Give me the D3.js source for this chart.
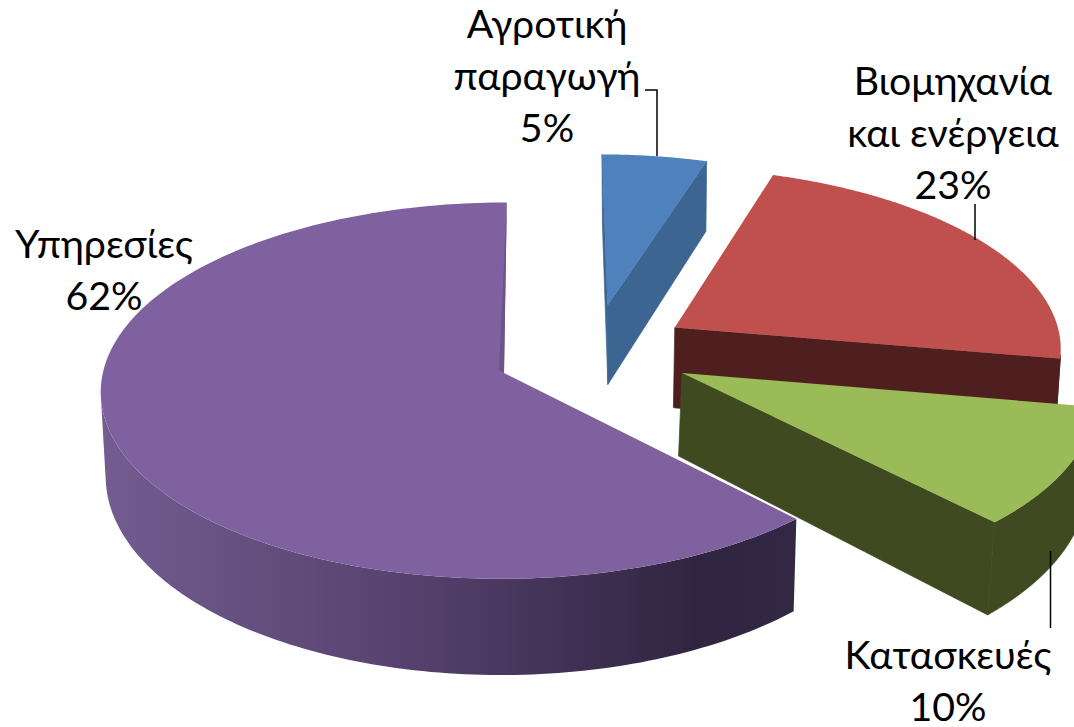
<!DOCTYPE html>
<html><head><meta charset="utf-8">
<script src="https://cdn.jsdelivr.net/npm/d3@7"></script>
<style>html,body{margin:0;padding:0;background:#fff;overflow:hidden}svg{display:block}</style>
</head><body><svg id="c" width="1074" height="727"></svg>
<script>
const categories = ["Αγροτική παραγωγή","Βιομηχανία και ενέργεια","Κατασκευές","Υπηρεσίες"];
const values = [5,22.8,10.2,62];
const labelLines = [["Αγροτική","παραγωγή","5%"],["Βιομηχανία","και ενέργεια","23%"],["Κατασκευές","10%"],["Υπηρεσίες","62%"]];
const topColors = ["#4f81bd","#c0504d","#9bbb59","#7f61a0"];
const wallColors = ["#3d6591","#4f1f1f","#3f4a20","#6c5489"];
const paintOrder = [0,1,3,2];

// layout
const offsets = [[73,-150],[141,-100],[145,0],[-33,0]];
const radiusScale = [0.95,0.985,1.03,1.008];
const wallShift = [0,-1,-3,-1];
const labelAnchors = [[547,38],[953,95],[948,669],[104,258]];
const lineH = 52, fontSize = 39.3;
const R = 398, D = 4280, H = 1990, depth0 = 83, x0 = 537, yHorizon = 373 - H;
const leaders = [[[645,90],[657,90],[657,156]],[[975,204],[975,240]],[[1050.5,551],[1050.5,628]]];

const svg = d3.select("#c");
const defs = svg.append("defs");
const grad = defs.append("linearGradient").attr("id","purpleWall").attr("gradientUnits","userSpaceOnUse")
  .attr("x1",100).attr("x2",800).attr("y1",0).attr("y2",0);
const gradStops = [[0,"#735c90"],[0.43,"#57426f"],[0.85,"#302541"],[1,"#332843"]];
gradStops.forEach(s=>grad.append("stop").attr("offset",s[0]).attr("stop-color",s[1]));

const slices = d3.pie().sort(null).value(d=>d)(values);
const line = d3.line();
function proj(X,Z,bottom,shift){
  const s = D/(D-Z);
  let x = x0 + X*s, y = yHorizon + H*s;
  if(bottom){ y += depth0*Math.pow(s,1.5); x -= (x-640)*0.011; x += shift; }
  return [x,y];
}

paintOrder.forEach(i=>{
  const sl = slices[i], [ox,oz] = offsets[i], r = R*radiusScale[i], sh = wallShift[i];
  const g = svg.append("g").attr("class","slice").attr("data-name",categories[i]);
  const n = 200;
  const rim = d3.range(0,n+1).map(k=>{
    const a = sl.startAngle + (sl.endAngle-sl.startAngle)*k/n;
    return [ox+r*Math.sin(a), oz-r*Math.cos(a)];
  });
  const apex = [ox,oz];
  const T = p=>proj(p[0],p[1],false,sh), B = p=>proj(p[0],p[1],true,sh);
  const wallColor = i===3 ? "url(#purpleWall)" : wallColors[i];
  const visible = (a,b)=>d3.polygonArea([T(a),T(b),B(b),B(a)])>0;

  // outer wall: the run of rim segments that face the viewer
  const run = rim.filter((p,k)=> (k<n && visible(p,rim[k+1])) || (k>0 && visible(rim[k-1],p)));
  if(run.length>1){
    const poly = [...run.map(T),...run.slice().reverse().map(B)];
    g.append("path").attr("d",line(poly)+"Z").attr("fill",wallColor)
      .attr("stroke",i===3?"none":wallColors[i]).attr("stroke-width",0.7);
  }
  // cut faces
  if(i!==3){
    [[apex,rim[0]],[rim[n],apex]].forEach(([a,b])=>{
      if(visible(a,b)) g.append("path").attr("d",line([T(a),T(b),B(b),B(a)])+"Z")
        .attr("fill",wallColors[i]).attr("stroke",wallColors[i]).attr("stroke-width",0.7);
    });
  }
  // top face
  g.append("path").attr("d",line([apex,...rim].map(T))+"Z").attr("fill",topColors[i]);
  // purple inner sliver seen along the closing edge
  if(i===3){
    const a = T(apex), e = T(rim[n]);
    g.append("path").attr("d",line([e,a,[a[0]-5,a[1]-3]])+"Z").attr("fill",wallColors[3]);
  }
});

leaders.forEach(l=>svg.append("path").attr("d",line(l)).attr("fill","none").attr("stroke","#000").attr("stroke-width",1.5));

labelLines.forEach((ls,i)=>{
  const t = svg.append("text").attr("text-anchor","middle").attr("font-family","Lato, 'Noto Sans', sans-serif").attr("font-size",fontSize).attr("fill","#000");
  ls.forEach((s,k)=>t.append("tspan").attr("x",labelAnchors[i][0]).attr("y",labelAnchors[i][1]+k*lineH).text(s));
});
</script></body></html>
